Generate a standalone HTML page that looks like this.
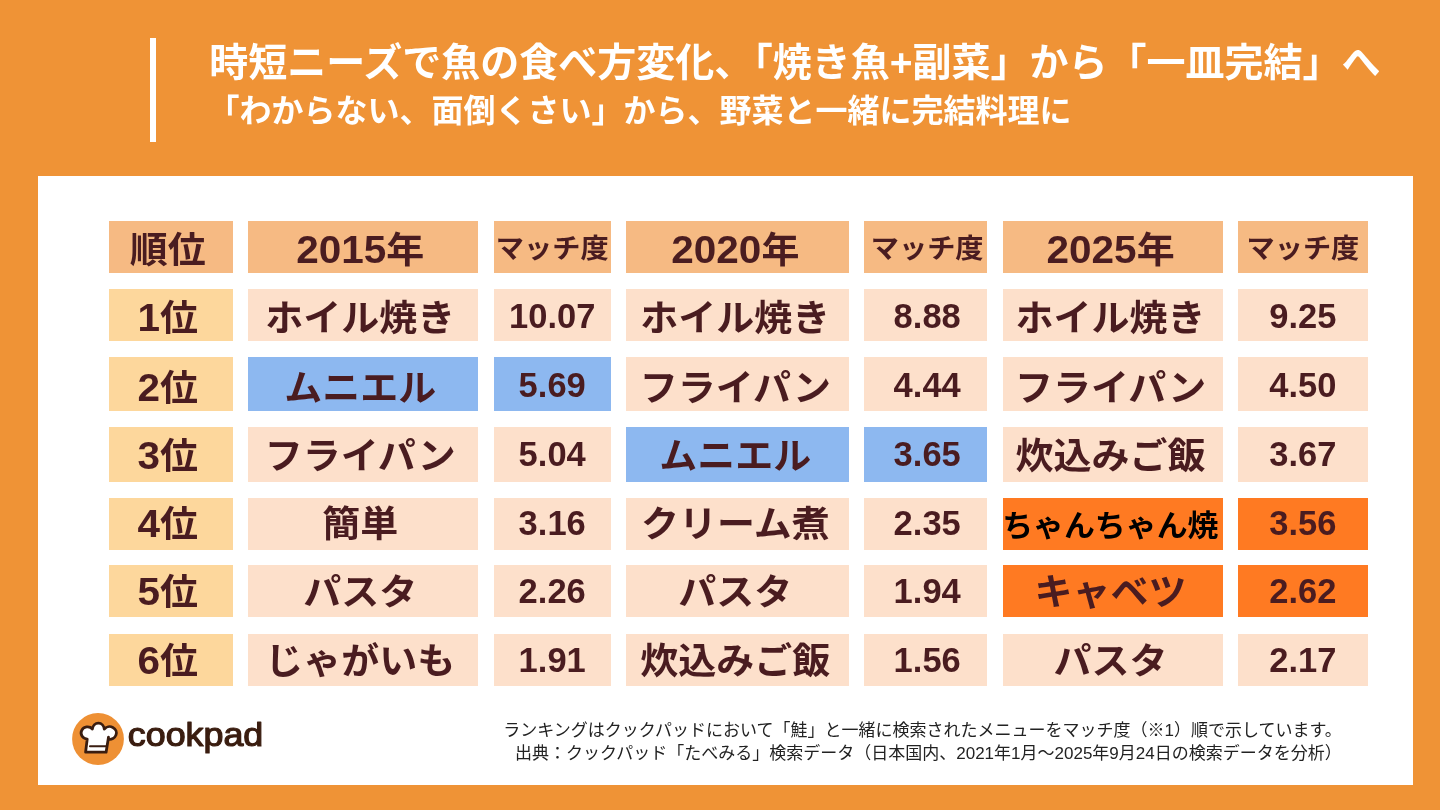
<!DOCTYPE html>
<html lang="ja">
<head>
<meta charset="utf-8">
<title>時短ニーズで魚の食べ方変化</title>
<style>
html,body{margin:0;padding:0}
body{width:1440px;height:810px;overflow:hidden;background:#ef9336;position:relative;font-family:"Liberation Sans","Noto Sans CJK JP",sans-serif;color:#4a1c20}
.bar{position:absolute;left:150px;top:38.3px;width:5.7px;height:103.4px;background:#fff}
.h1{position:absolute;left:209.2px;top:36px;font-size:39px;line-height:54px;font-weight:700;color:#fff;white-space:nowrap}
.h2{position:absolute;left:207.5px;top:88.4px;font-size:32px;line-height:46px;font-weight:700;color:#fff;white-space:nowrap}
.panel{position:absolute;left:37.6px;top:175.8px;width:1375.7px;height:609.1px;background:#fff}
.c{position:absolute;text-align:center;font-weight:700;white-space:nowrap;overflow:visible}
.c span{display:inline-block;position:relative}
.t span{transform:scaleY(.965)}
.m span{transform:scaleY(.96)}
.t{font-size:38px}
.t b{font-size:40.5px;font-weight:700;line-height:0}
.m{font-size:28.2px}
.n{font-size:34.5px}
.chan{font-size:30.9px;color:#000}
.foot{position:absolute;right:98.3px;font-size:17px;line-height:24px;white-space:nowrap;color:#222;font-weight:400}
.logo{position:absolute;left:68px;top:708px}
</style>
</head>
<body>
<div class="bar"></div>
<div class="h1">時短ニーズで魚の食べ方変化、「焼き魚+副菜」から「一皿完結」へ</div>
<div class="h2">「わからない、面倒くさい」から、野菜と一緒に完結料理に</div>
<div class="panel"></div>
<div class="c t" style="left:109.2px;top:221.0px;width:123.8px;height:52.2px;line-height:52.2px;background:#f6ba83"><span style="left:-3.3px;top:3.1px">順位</span></div>
<div class="c t" style="left:248.0px;top:221.0px;width:230.4px;height:52.2px;line-height:52.2px;background:#f6ba83"><span style="left:-3.0px;top:3.1px"><b>2015</b>年</span></div>
<div class="c m" style="left:493.5px;top:221.0px;width:117.4px;height:52.2px;line-height:52.2px;background:#f6ba83"><span style="left:0.0px;top:1.1px">マッチ度</span></div>
<div class="c t" style="left:626.1px;top:221.0px;width:222.5px;height:52.2px;line-height:52.2px;background:#f6ba83"><span style="left:-2.0px;top:3.1px"><b>2020</b>年</span></div>
<div class="c m" style="left:863.9px;top:221.0px;width:123.6px;height:52.2px;line-height:52.2px;background:#f6ba83"><span style="left:1.5px;top:1.1px">マッチ度</span></div>
<div class="c t" style="left:1002.8px;top:221.0px;width:220.0px;height:52.2px;line-height:52.2px;background:#f6ba83"><span style="left:-2.2px;top:3.1px"><b>2025</b>年</span></div>
<div class="c m" style="left:1238.0px;top:221.0px;width:129.8px;height:52.2px;line-height:52.2px;background:#f6ba83"><span style="left:0.0px;top:1.1px">マッチ度</span></div>
<div class="c t" style="left:109.2px;top:289.0px;width:123.8px;height:52.2px;line-height:52.2px;background:#fdd79c"><span style="left:-3.3px;top:3.4px"><b>1</b>位</span></div>
<div class="c t" style="left:248.0px;top:289.0px;width:230.4px;height:52.2px;line-height:52.2px;background:#fde0cb"><span style="left:-3.0px;top:3.4px">ホイル焼き</span></div>
<div class="c n" style="left:493.5px;top:289.0px;width:117.4px;height:52.2px;line-height:52.2px;background:#fde0cb"><span style="left:0.0px;top:1.0px">10.07</span></div>
<div class="c t" style="left:626.1px;top:289.0px;width:222.5px;height:52.2px;line-height:52.2px;background:#fde0cb"><span style="left:-2.0px;top:3.4px">ホイル焼き</span></div>
<div class="c n" style="left:863.9px;top:289.0px;width:123.6px;height:52.2px;line-height:52.2px;background:#fde0cb"><span style="left:1.5px;top:1.0px">8.88</span></div>
<div class="c t" style="left:1002.8px;top:289.0px;width:220.0px;height:52.2px;line-height:52.2px;background:#fde0cb"><span style="left:-2.2px;top:3.4px">ホイル焼き</span></div>
<div class="c n" style="left:1238.0px;top:289.0px;width:129.8px;height:52.2px;line-height:52.2px;background:#fde0cb"><span style="left:0.0px;top:1.0px">9.25</span></div>
<div class="c t" style="left:109.2px;top:357.1px;width:123.8px;height:54.4px;line-height:54.4px;background:#fdd79c"><span style="left:-3.3px;top:3.6px"><b>2</b>位</span></div>
<div class="c t" style="left:248.0px;top:357.1px;width:230.4px;height:54.4px;line-height:54.4px;background:#8db8f0"><span style="left:-3.0px;top:3.6px">ムニエル</span></div>
<div class="c n" style="left:493.5px;top:357.1px;width:117.4px;height:54.4px;line-height:54.4px;background:#8db8f0"><span style="left:0.0px;top:0.6px">5.69</span></div>
<div class="c t" style="left:626.1px;top:357.1px;width:222.5px;height:54.4px;line-height:54.4px;background:#fde0cb"><span style="left:-2.0px;top:3.6px">フライパン</span></div>
<div class="c n" style="left:863.9px;top:357.1px;width:123.6px;height:54.4px;line-height:54.4px;background:#fde0cb"><span style="left:1.5px;top:0.6px">4.44</span></div>
<div class="c t" style="left:1002.8px;top:357.1px;width:220.0px;height:54.4px;line-height:54.4px;background:#fde0cb"><span style="left:-2.2px;top:3.6px">フライパン</span></div>
<div class="c n" style="left:1238.0px;top:357.1px;width:129.8px;height:54.4px;line-height:54.4px;background:#fde0cb"><span style="left:0.0px;top:0.6px">4.50</span></div>
<div class="c t" style="left:109.2px;top:427.2px;width:123.8px;height:54.8px;line-height:54.8px;background:#fdd79c"><span style="left:-3.3px;top:1.8px"><b>3</b>位</span></div>
<div class="c t" style="left:248.0px;top:427.2px;width:230.4px;height:54.8px;line-height:54.8px;background:#fde0cb"><span style="left:-3.0px;top:1.8px">フライパン</span></div>
<div class="c n" style="left:493.5px;top:427.2px;width:117.4px;height:54.8px;line-height:54.8px;background:#fde0cb"><span style="left:0.0px;top:-0.4px">5.04</span></div>
<div class="c t" style="left:626.1px;top:427.2px;width:222.5px;height:54.8px;line-height:54.8px;background:#8db8f0"><span style="left:-2.0px;top:1.8px">ムニエル</span></div>
<div class="c n" style="left:863.9px;top:427.2px;width:123.6px;height:54.8px;line-height:54.8px;background:#8db8f0"><span style="left:1.5px;top:-0.4px">3.65</span></div>
<div class="c t" style="left:1002.8px;top:427.2px;width:220.0px;height:54.8px;line-height:54.8px;background:#fde0cb"><span style="left:-2.2px;top:1.8px">炊込みご飯</span></div>
<div class="c n" style="left:1238.0px;top:427.2px;width:129.8px;height:54.8px;line-height:54.8px;background:#fde0cb"><span style="left:0.0px;top:-0.4px">3.67</span></div>
<div class="c t" style="left:109.2px;top:497.5px;width:123.8px;height:52.0px;line-height:52.0px;background:#fdd79c"><span style="left:-3.3px;top:0.2px"><b>4</b>位</span></div>
<div class="c t" style="left:248.0px;top:497.5px;width:230.4px;height:52.0px;line-height:52.0px;background:#fde0cb"><span style="left:-3.0px;top:0.2px">簡単</span></div>
<div class="c n" style="left:493.5px;top:497.5px;width:117.4px;height:52.0px;line-height:52.0px;background:#fde0cb"><span style="left:0.0px;top:-0.7px">3.16</span></div>
<div class="c t" style="left:626.1px;top:497.5px;width:222.5px;height:52.0px;line-height:52.0px;background:#fde0cb"><span style="left:-2.0px;top:0.2px">クリーム煮</span></div>
<div class="c n" style="left:863.9px;top:497.5px;width:123.6px;height:52.0px;line-height:52.0px;background:#fde0cb"><span style="left:1.5px;top:-0.7px">2.35</span></div>
<div class="c t chan" style="left:1002.8px;top:497.5px;width:220.0px;height:52.0px;line-height:52.0px;background:#ff7a22"><span style="left:-2.5px;top:2.0px">ちゃんちゃん焼</span></div>
<div class="c n" style="left:1238.0px;top:497.5px;width:129.8px;height:52.0px;line-height:52.0px;background:#ff7a22"><span style="left:0.0px;top:-0.7px">3.56</span></div>
<div class="c t" style="left:109.2px;top:565.2px;width:123.8px;height:52.3px;line-height:52.3px;background:#fdd79c"><span style="left:-3.3px;top:1.1px"><b>5</b>位</span></div>
<div class="c t" style="left:248.0px;top:565.2px;width:230.4px;height:52.3px;line-height:52.3px;background:#fde0cb"><span style="left:-3.0px;top:1.1px">パスタ</span></div>
<div class="c n" style="left:493.5px;top:565.2px;width:117.4px;height:52.3px;line-height:52.3px;background:#fde0cb"><span style="left:0.0px;top:-0.1px">2.26</span></div>
<div class="c t" style="left:626.1px;top:565.2px;width:222.5px;height:52.3px;line-height:52.3px;background:#fde0cb"><span style="left:-2.0px;top:1.1px">パスタ</span></div>
<div class="c n" style="left:863.9px;top:565.2px;width:123.6px;height:52.3px;line-height:52.3px;background:#fde0cb"><span style="left:1.5px;top:-0.1px">1.94</span></div>
<div class="c t" style="left:1002.8px;top:565.2px;width:220.0px;height:52.3px;line-height:52.3px;background:#ff7a22"><span style="left:-2.2px;top:1.1px">キャベツ</span></div>
<div class="c n" style="left:1238.0px;top:565.2px;width:129.8px;height:52.3px;line-height:52.3px;background:#ff7a22"><span style="left:0.0px;top:-0.1px">2.62</span></div>
<div class="c t" style="left:109.2px;top:633.8px;width:123.8px;height:52.4px;line-height:52.4px;background:#fdd79c"><span style="left:-3.3px;top:0.8px"><b>6</b>位</span></div>
<div class="c t" style="left:248.0px;top:633.8px;width:230.4px;height:52.4px;line-height:52.4px;background:#fde0cb"><span style="left:-3.0px;top:0.8px">じゃがいも</span></div>
<div class="c n" style="left:493.5px;top:633.8px;width:117.4px;height:52.4px;line-height:52.4px;background:#fde0cb"><span style="left:0.0px;top:0.2px">1.91</span></div>
<div class="c t" style="left:626.1px;top:633.8px;width:222.5px;height:52.4px;line-height:52.4px;background:#fde0cb"><span style="left:-2.0px;top:0.8px">炊込みご飯</span></div>
<div class="c n" style="left:863.9px;top:633.8px;width:123.6px;height:52.4px;line-height:52.4px;background:#fde0cb"><span style="left:1.5px;top:0.2px">1.56</span></div>
<div class="c t" style="left:1002.8px;top:633.8px;width:220.0px;height:52.4px;line-height:52.4px;background:#fde0cb"><span style="left:-2.2px;top:0.8px">パスタ</span></div>
<div class="c n" style="left:1238.0px;top:633.8px;width:129.8px;height:52.4px;line-height:52.4px;background:#fde0cb"><span style="left:0.0px;top:0.2px">2.17</span></div>
<div class="foot" style="top:719px">ランキングはクックパッドにおいて「鮭」と一緒に検索されたメニューをマッチ度（※1）順で示しています。</div>
<div class="foot" style="top:741.5px">出典：クックパッド「たべみる」検索データ（日本国内、2021年1月〜2025年9月24日の検索データを分析）</div>
<svg class="logo" width="210" height="64" viewBox="0 0 210 64">
<circle cx="30" cy="31" r="25.9" fill="#ee9034"/>
<path d="M17.6 44.2 L19.2 31.1 A6.5 6.1 0 1 1 24.4 20.9 A6 6.9 0 0 1 36.3 21.2 A6.7 6.3 0 1 1 40.3 31.1 L40.5 29.2 L38.1 44.2 Z" fill="#fff" stroke="#3a1d10" stroke-width="2.8" stroke-linejoin="round" stroke-linecap="round"/>
<path d="M22 38.2 H38.4" fill="none" stroke="#3a1d10" stroke-width="2.1" stroke-linecap="round"/>
<text x="59.8" y="38.2" font-family="'Liberation Sans',sans-serif" font-size="33" fill="#3a1d10" stroke="#3a1d10" stroke-width="1.2" stroke-linejoin="round" textLength="135.5" lengthAdjust="spacingAndGlyphs">cookpad</text>
</svg>
</body>
</html>
